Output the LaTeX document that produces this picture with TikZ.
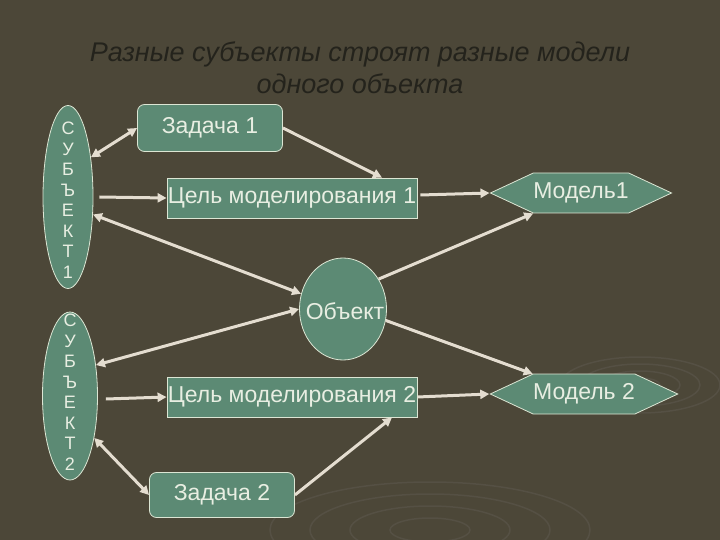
\documentclass[tikz,border=0pt]{standalone}
\usepackage{fontspec}
\setmainfont{Liberation Sans}
\usetikzlibrary{shapes.geometric,shapes.symbols,arrows.meta}
\definecolor{bg}{HTML}{4C4738}
\definecolor{boxc}{HTML}{5C8A74}
\definecolor{edgec}{HTML}{DCE6D4}
\definecolor{txt}{HTML}{E8EEE2}
\definecolor{arr}{HTML}{E4DDD0}
\definecolor{titlec}{HTML}{24231C}
\definecolor{ripple}{HTML}{555044}
\begin{document}
\begin{tikzpicture}[x=1pt,y=-1pt,
  shp/.style={fill=boxc,draw=edgec,line width=0.8pt,text=txt,font=\fontsize{23}{27}\selectfont,inner sep=0pt},
  rbox/.style={shp,rectangle,rounded corners=7pt},
  sbox/.style={shp,rectangle},
  subj/.style={shp,ellipse},
  subjt/.style={text=txt,font=\fontsize{18}{20.5}\selectfont,align=center,inner sep=0pt},
  hexa/.style={shp,signal,signal to=east and west,signal pointer angle=50,minimum height=40pt},
  ar/.style={draw=arr,line width=3pt,-{Triangle[length=9pt,width=9pt]},shorten >=0pt},
  dar/.style={ar,{Triangle[length=9pt,width=9pt]}-{Triangle[length=9pt,width=9pt]}}]
\fill[bg] (0,0) rectangle (720,540);
\useasboundingbox (0,0) rectangle (720,540);
% faint ripples
\foreach \r in {20,40,60,80}{\draw[ripple,line width=1.5pt] (640,385) ellipse ({\r} and {\r*0.35});}
\foreach \r in {40,80,120,160}{\draw[ripple,line width=1.5pt] (430,530) ellipse ({\r} and {\r*0.3});}
\node[text=titlec,font=\itshape\fontsize{27}{32}\selectfont,align=center] (title) at (360,68)
  {Разные субъекты строят разные модели\\одного объекта};
\node[subj,minimum width=50pt,minimum height=183pt] (s1) at (68,197) {};
\node[subjt] (s1t) at (68,200) {С\\У\\Б\\Ъ\\Е\\К\\Т\\1};
\node[subj,minimum width=55pt,minimum height=168pt] (s2) at (70,396) {};
\node[subjt] (s2t) at (70,392) {С\\У\\Б\\Ъ\\Е\\К\\Т\\2};
\node[rbox,minimum width=145pt,minimum height=47pt] (z1) at (210,128) {Задача 1};
\node[sbox,minimum width=250pt,minimum height=40pt] (c1) at (292,198) {Цель моделирования 1};
\node[sbox,minimum width=250pt,minimum height=40pt] (c2) at (292,397) {Цель моделирования 2};
\node[rbox,minimum width=145pt,minimum height=45pt] (z2) at (222,495) {Задача 2};
\node[shp,ellipse,minimum width=87pt,minimum height=102pt] (ob) at (343,309) {};
\node[text=txt,font=\fontsize{23}{27}\selectfont] (obt) at (345,311) {Объект};
\node[hexa,minimum width=158pt] (m1) at (581,193) {Модель1};
\node[hexa,minimum width=152pt] (m2) at (584,394) {Модель 2};
% connectors
\draw[dar] (s1.60) -- (z1.west);
\draw[ar] (z1.east) -- (c1.north east -| 382,178);
\draw[ar] (s1.east) ++(6,0) coordinate (s1e) -- (c1.west);
\draw[dar] (s1.-35) -- (ob.160);
\draw[ar] (c1.east) ++(3,-3) coordinate (c1e) -- (m1.west);
\draw[ar] (ob.40) -- (m1.south west);
\draw[dar] (s2.50) -- (ob.180);
\draw[ar] (s2.east) ++(8,3) coordinate (s2e) -- (c2.west);
\draw[ar] (ob.-15) -- (m2.north west);
\draw[ar] (c2.east) -- (m2.west);
\draw[ar] (z2.east) -- (c2.south east -| 392,418);
\draw[dar] (s2.-60) -- (z2.west);
\end{tikzpicture}
\end{document}
